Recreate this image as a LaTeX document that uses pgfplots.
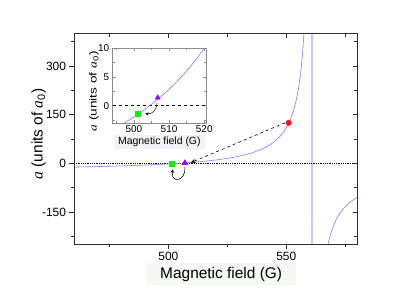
\documentclass[border=0pt]{standalone}
\usepackage{fontspec}
\setmainfont{Liberation Sans}
\newfontfamily\tnr{Liberation Serif}
\usepackage{graphicx}
\usepackage{pgfplots}
\pgfplotsset{compat=1.18}
\usetikzlibrary{arrows.meta}
\definecolor{curve}{RGB}{125,125,255}
\definecolor{pole}{RGB}{200,200,250}
\definecolor{frame}{RGB}{45,45,45}
\definecolor{iframe}{RGB}{140,140,140}
\definecolor{labbg}{RGB}{246,249,242}
\definecolor{ilabbg}{RGB}{242,242,246}
\definecolor{mgreen}{RGB}{20,235,20}
\definecolor{mpurple}{RGB}{150,0,235}
\definecolor{mred}{RGB}{245,20,20}
\newcommand{\asym}{{\tnr\itshape a}}
\begin{document}
\begin{tikzpicture}
\useasboundingbox (-74bp,-49.7bp) rectangle (341bp,244.3bp);
% main axis
\begin{axis}[
  at={(0bp,0bp)}, anchor=south west, scale only axis,
  width=283bp, height=210.6bp,
  xmin=460, xmax=580, ymin=-250, ymax=400,
  xtick={500,550}, minor xtick={475,525,575},
  ytick={-150,0,150,300}, minor ytick={-225,-75,75,225,375},
  xtick pos=left, ytick pos=left, tick align=outside,
  major tick length=4.5bp, minor tick length=3bp,
  axis line style={frame, line width=1pt},
  tick style={frame, line width=0.8pt},
  ticklabel style={font=\fontsize{12}{12}\selectfont},
  /pgf/number format/assume math mode=true,
  xlabel={Magnetic field (G)},
  xlabel style={font=\fontsize{15.5}{16}\selectfont, at={(axis description cs:0.52,-0.1424)}, anchor=center, fill=labbg, inner xsep=14bp, inner ysep=4bp},
  ylabel={\asym\ (units of \asym\textsubscript{0})},
  ylabel style={font=\fontsize{15.5}{16}\selectfont, at={(axis description cs:-0.125,0.524)}, anchor=center, inner sep=1bp},
  clip=true,
]
\addplot[pole, line width=2bp] coordinates {(561,-250) (561,400)};
\addplot[black, densely dotted, line width=0.8pt] coordinates {(460,0) (580,0)};
\addplot[curve, line width=0.6pt] coordinates {
(460,-11.68) (470,-10.05) (480,-8.02) (490,-5.41) (495,-3.81) (500,-1.95)
(505,0.24) (510,2.86) (515,6.05) (520,10.02) (525,15.09) (530,21.80)
(535,31.09) (538,38.90) (540,44.80) (543,56.68) (545,67.08) (547,80.45)
(549,98.27) (550,109.61) (551,123.23) (552,139.86) (553,160.66) (554,187.39)
(555,223.04) (555.5,245.73) (556,272.95) (556.5,306.22) (557,347.81)
(557.4,389.40) (557.6,413.87)};
\addplot[curve, line width=0.6pt] coordinates {
(567.5,-256.85) (568,-240.39) (569,-213.66) (570,-192.86) (571,-176.23)
(572,-162.61) (574,-141.67) (576,-126.32) (578,-114.57) (580,-105.30)};
\draw[black, dashed, line width=0.6pt, -{Stealth[length=5bp,width=4bp]}] (axis cs:549.5,125) -- (axis cs:509.5,2);
\draw[black, line width=0.6pt, -{Stealth[length=4bp,width=3.5bp]}] (axis cs:507,-12) .. controls (axis cs:507.5,-60) and (axis cs:500.5,-60) .. (axis cs:502,-18);
\addplot[only marks, mark=square*, mark size=2.5bp, mgreen] coordinates {(501.6,0)};
\addplot[only marks, mark=triangle*, mark size=3.3bp, mpurple] coordinates {(507,1)};
\addplot[only marks, mark=*, mark size=2.8bp, mred] coordinates {(551,125)};
\end{axis}
% mirrored inside ticks on top/right
\begin{axis}[
  at={(0bp,0bp)}, anchor=south west, scale only axis,
  width=283bp, height=210.6bp,
  xmin=460, xmax=580, ymin=-250, ymax=400,
  xtick={500,550}, minor xtick={475,525,575},
  ytick={-150,0,150,300}, minor ytick={-225,-75,75,225,375},
  xtick pos=right, ytick pos=right, tick align=inside,
  major tick length=4.5bp, minor tick length=3bp,
  xticklabels={}, yticklabels={},
  axis line style={frame, line width=1pt},
  tick style={frame, line width=0.8pt},
]
\end{axis}
% inset
\begin{axis}[
  at={(38.7bp,121.3bp)}, anchor=south west, scale only axis,
  width=93.3bp, height=74.7bp,
  xmin=494, xmax=520.5, ymin=-3, ymax=10,
  xtick={500,510,520}, minor xtick={495,505,515},
  ytick={0,5,10}, minor ytick={-2.5,2.5,7.5},
  tick align=inside,
  major tick length=3bp, minor tick length=2bp,
  axis background/.style={fill=white},
  axis line style={iframe, line width=0.7pt},
  tick style={iframe, line width=0.6pt},
  ticklabel style={font=\fontsize{10}{10}\selectfont},
  xticklabel style={yshift=1bp},
  /pgf/number format/assume math mode=true,
  xlabel={Magnetic field (G)},
  xlabel style={font=\fontsize{10.5}{11}\selectfont, at={(axis description cs:0.5,-0.258)}, anchor=center, fill=ilabbg, inner xsep=4bp, inner ysep=2bp},
  ylabel={\scalebox{1.3}[1]{\asym\ (units of \asym\textsubscript{0})}},
  ylabel style={font=\fontsize{10.5}{11}\selectfont, at={(axis description cs:-0.2,0.424)}, anchor=center, inner sep=1bp},
]
\addplot[black, dashed, line width=0.7pt] coordinates {(494,0) (520.5,0)};
\addplot[curve, line width=0.6pt] coordinates {
(494,-4.15) (496,-3.47) (498,-2.73) (500,-1.95) (502,-1.12) (504,-0.23)
(506,0.72) (508,1.75) (510,2.86) (512,4.06) (514,5.36) (516,6.77)
(518,8.32) (520,10.02) (521,10.93)};
\draw[black, line width=0.5pt, -{Stealth[length=3.5bp,width=3bp]}] (axis cs:506.6,0.5) .. controls (axis cs:506.4,-1.1) and (axis cs:505,-1.4) .. (axis cs:503.2,-1.4);
\addplot[only marks, mark=square*, mark size=2.3bp, mgreen] coordinates {(501.1,-1.4)};
\addplot[only marks, mark=triangle*, mark size=3bp, mpurple] coordinates {(506.8,1.4)};
\end{axis}
\end{tikzpicture}
\end{document}
